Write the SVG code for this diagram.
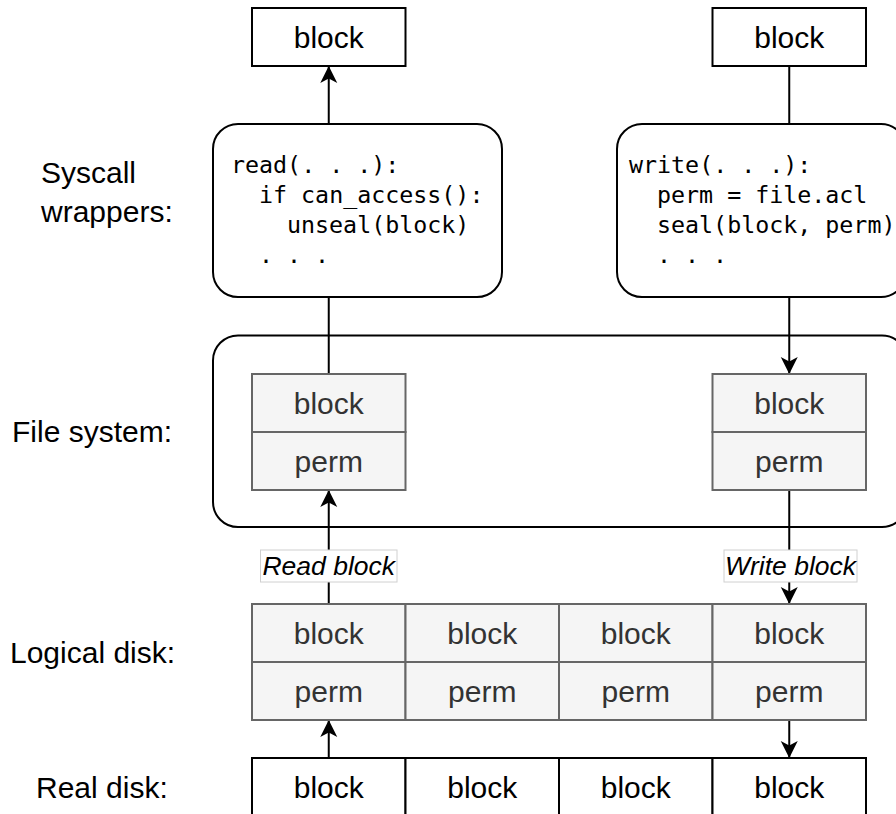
<svg xmlns="http://www.w3.org/2000/svg" width="896" height="814" viewBox="0 0 896 814">
  <style>
    .lbl { font-family: "Liberation Sans", Arial, sans-serif; font-size: 30px; fill: #000; }
    .cell { fill: #f5f5f5; stroke: #666; stroke-width: 2; }
    .cell-t { font-family: "Liberation Sans", Arial, sans-serif; font-size: 30px; fill: #333; text-anchor: middle; }
    .box { fill: #fff; stroke: #000; stroke-width: 2; }
    .box-t { font-family: "Liberation Sans", Arial, sans-serif; font-size: 30px; fill: #000; text-anchor: middle; }
    .code { font-family: "DejaVu Sans Mono", "Liberation Mono", monospace; font-size: 23.3px; fill: #000; }
    .edge { fill: none; stroke: #000; stroke-width: 2; }
    .arrow { stroke: #000; stroke-width: 2; fill: none; marker-end: url(#head); }
    .elbl-box { fill: #fff; stroke: #d0d0d0; stroke-width: 1; }
    .elbl { font-family: "Liberation Sans", Arial, sans-serif; font-size: 26.5px; font-style: italic; fill: #000; text-anchor: middle; }
  </style>
  <defs>
    <marker id="head" markerUnits="userSpaceOnUse" markerWidth="20" markerHeight="20" refX="17" refY="9" orient="auto" overflow="visible">
      <path d="M0,0.5 L17,9 L0,17.5 L4.5,9 Z" fill="#000" stroke="none"/>
    </marker>
  </defs>

  <!-- layer labels -->
  <g id="layer-labels">
    <text class="lbl" x="41" y="182.5">Syscall</text>
    <text class="lbl" x="41" y="221.5">wrappers:</text>
    <text class="lbl" x="12" y="442">File system:</text>
    <text class="lbl" x="10" y="663">Logical disk:</text>
    <text class="lbl" x="36" y="798">Real disk:</text>
  </g>

  <!-- file system container -->
  <g id="fs-container">
    <rect class="box" x="213" y="335.5" width="694" height="191.5" rx="25" ry="25"/>
  </g>

  <!-- connectors -->
  <g id="connectors">
    <!-- read path -->
    <line class="arrow" x1="328.75" y1="124" x2="328.75" y2="66"/>
    <line class="edge" x1="328.75" y1="374" x2="328.75" y2="297"/>
    <line class="arrow" x1="328.75" y1="604" x2="328.75" y2="490"/>
    <line class="arrow" x1="328.75" y1="758" x2="328.75" y2="720"/>
    <!-- write path -->
    <line class="edge" x1="789.25" y1="66" x2="789.25" y2="124"/>
    <line class="arrow" x1="789.25" y1="297" x2="789.25" y2="374"/>
    <line class="arrow" x1="789.25" y1="490" x2="789.25" y2="604"/>
    <line class="arrow" x1="789.25" y1="720" x2="789.25" y2="758"/>
  </g>

  <!-- connector labels -->
  <g id="label-read">
    <rect class="elbl-box" x="260.5" y="550" width="136.5" height="32"/>
    <text class="elbl" x="328.75" y="574.5">Read block</text>
  </g>
  <g id="label-write">
    <rect class="elbl-box" x="724" y="550" width="133" height="32"/>
    <text class="elbl" x="790.5" y="574.5">Write block</text>
  </g>

  <!-- user-level blocks -->
  <g id="top-block-read">
    <rect class="box" x="252" y="8" width="153.5" height="58"/>
    <text class="box-t" x="328.75" y="47.5">block</text>
  </g>
  <g id="top-block-write">
    <rect class="box" x="712.5" y="8" width="153.5" height="58"/>
    <text class="box-t" x="789.25" y="47.5">block</text>
  </g>

  <!-- syscall wrappers -->
  <g id="syscall-read">
    <rect class="box" x="213" y="124" width="289" height="173" rx="25" ry="25"/>
    <text class="code" x="231" y="173">read(. . .):</text>
    <text class="code" x="259" y="203">if can_access():</text>
    <text class="code" x="287" y="233">unseal(block)</text>
    <text class="code" x="259" y="263">. . .</text>
  </g>
  <g id="syscall-write">
    <rect class="box" x="617" y="124" width="289" height="173" rx="25" ry="25"/>
    <text class="code" x="629" y="173">write(. . .):</text>
    <text class="code" x="657" y="203">perm = file.acl</text>
    <text class="code" x="657" y="233">seal(block, perm)</text>
    <text class="code" x="657" y="263">. . .</text>
  </g>

  <!-- file system cached blocks -->
  <g id="fs-block-read">
    <rect class="cell" x="252" y="374" width="153.5" height="58"/>
    <rect class="cell" x="252" y="432" width="153.5" height="58"/>
    <text class="cell-t" x="328.75" y="413.5">block</text>
    <text class="cell-t" x="328.75" y="471.5">perm</text>
  </g>
  <g id="fs-block-write">
    <rect class="cell" x="712.5" y="374" width="153.5" height="58"/>
    <rect class="cell" x="712.5" y="432" width="153.5" height="58"/>
    <text class="cell-t" x="789.25" y="413.5">block</text>
    <text class="cell-t" x="789.25" y="471.5">perm</text>
  </g>

  <!-- logical disk -->
  <g id="logical-disk">
    <rect class="cell" x="252" y="604" width="153.5" height="58"/>
    <rect class="cell" x="405.5" y="604" width="153.5" height="58"/>
    <rect class="cell" x="559" y="604" width="153.5" height="58"/>
    <rect class="cell" x="712.5" y="604" width="153.5" height="58"/>
    <rect class="cell" x="252" y="662" width="153.5" height="58"/>
    <rect class="cell" x="405.5" y="662" width="153.5" height="58"/>
    <rect class="cell" x="559" y="662" width="153.5" height="58"/>
    <rect class="cell" x="712.5" y="662" width="153.5" height="58"/>
    <text class="cell-t" x="328.75" y="643.5">block</text>
    <text class="cell-t" x="482.25" y="643.5">block</text>
    <text class="cell-t" x="635.75" y="643.5">block</text>
    <text class="cell-t" x="789.25" y="643.5">block</text>
    <text class="cell-t" x="328.75" y="701.5">perm</text>
    <text class="cell-t" x="482.25" y="701.5">perm</text>
    <text class="cell-t" x="635.75" y="701.5">perm</text>
    <text class="cell-t" x="789.25" y="701.5">perm</text>
  </g>

  <!-- real disk -->
  <g id="real-disk">
    <rect class="box" x="252" y="758" width="153.5" height="58"/>
    <rect class="box" x="405.5" y="758" width="153.5" height="58"/>
    <rect class="box" x="559" y="758" width="153.5" height="58"/>
    <rect class="box" x="712.5" y="758" width="153.5" height="58"/>
    <text class="box-t" x="328.75" y="797.5">block</text>
    <text class="box-t" x="482.25" y="797.5">block</text>
    <text class="box-t" x="635.75" y="797.5">block</text>
    <text class="box-t" x="789.25" y="797.5">block</text>
  </g>
</svg>
